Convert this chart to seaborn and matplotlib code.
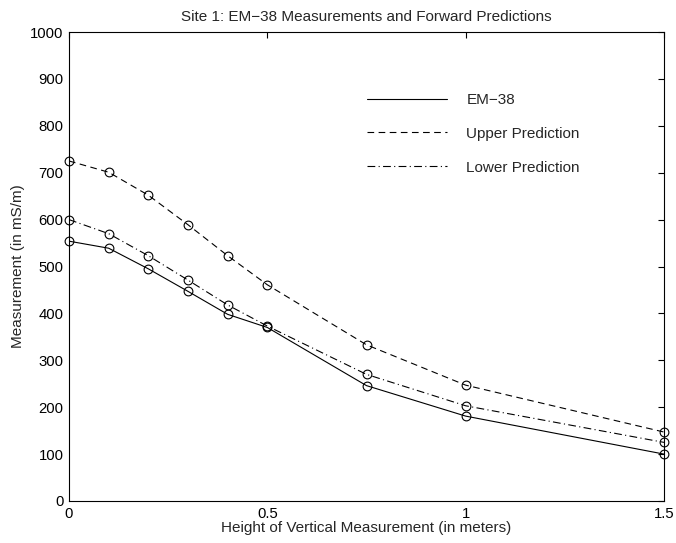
import matplotlib
matplotlib.use("Agg")
import matplotlib.pyplot as plt
import seaborn as sns
import pandas as pd

heights = [0, 0.1, 0.2, 0.3, 0.4, 0.5, 0.75, 1.0, 1.5]
em38 = [554, 539, 495, 447, 398, 370, 246, 181, 100]
upper = [725, 701, 652, 589, 523, 461, 333, 247, 147]
lower = [600, 570, 523, 471, 418, 373, 270, 203, 125]

series = [
    ("EM\u221238", em38, "-"),
    ("Upper Prediction", upper, (0, (6, 4))),
    ("Lower Prediction", lower, (0, (7, 3, 1, 3))),
]

sns.set_style("white")
plt.rcParams['font.family'] = ['Liberation Sans', 'DejaVu Sans']
plt.rcParams['font.size'] = 11

fig = plt.figure(figsize=(6.76, 5.43), dpi=100)
L, R, T, B = 69, 664, 32, 501
ax = fig.add_axes([L/676, 1-B/543, (R-L)/676, (B-T)/543])

for name, vals, ls in series:
    df = pd.DataFrame({"h": heights, "v": vals})
    sns.lineplot(data=df, x="h", y="v", ax=ax, color="k", linestyle=ls,
                 linewidth=0.8, label=name)
    ax.plot(df["h"], df["v"], linestyle="none", marker="o", markersize=6.3,
            markerfacecolor="none", markeredgecolor="k", markeredgewidth=0.8,
            clip_on=False, zorder=5)

ax.set_xlim(0, 1.5)
ax.set_ylim(0, 1000)
ax.set_xticks([0, 0.5, 1, 1.5])
ax.set_xticklabels(["0", "0.5", "1", "1.5"])
ax.set_yticks(range(0, 1001, 100))
ax.tick_params(direction="in", length=4, width=0.8, top=True, right=True,
               labelsize=10.7, colors="k", pad=4)
for s in ax.spines.values():
    s.set_color("k")
    s.set_linewidth(0.8)
ax.set_xlabel("Height of Vertical Measurement (in meters)", fontsize=11, labelpad=0)
ax.set_ylabel("Measurement (in mS/m)", fontsize=11, labelpad=4)
ax.set_title("Site 1: EM\u221238 Measurements and Forward Predictions", fontsize=11, pad=8)

leg = ax.legend(loc="upper left", bbox_to_anchor=(0.501, 0.870), frameon=False,
                borderpad=0, borderaxespad=0,
                handlelength=5.2, handletextpad=1.3, labelspacing=1.3, fontsize=11)
for line in leg.get_lines():
    line.set_linewidth(0.8)

fig.savefig("out.png", dpi=100)
